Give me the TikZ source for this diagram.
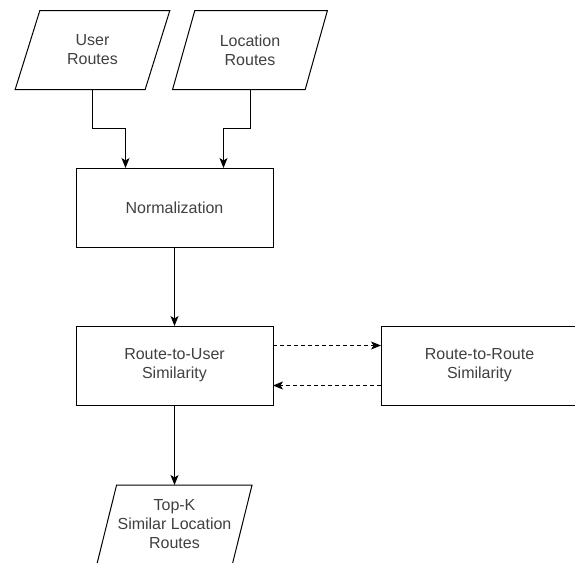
\documentclass[tikz,border=0pt]{standalone}
\usepackage{fontspec}
\setmainfont{Liberation Sans}
\usepackage{tikz}
\usetikzlibrary{shapes.geometric}
\usetikzlibrary{arrows.meta}
\tikzstyle{proc}=[rectangle,draw=black,text=black!75,font=\fontsize{16}{19}\selectfont,minimum width=197pt,minimum height=79pt,align=center,outer sep=0pt]
\tikzstyle{data}=[trapezium,trapezium left angle=69,trapezium right angle=111,trapezium stretches=true,draw=black,text=black!75,font=\fontsize{16}{19}\selectfont,minimum width=155pt,minimum height=79pt,align=center,outer sep=0pt,inner sep=1pt]
\tikzstyle{arrow}=[-{Stealth[length=10pt,width=8pt,inset=2.5pt]}]
\tikzstyle{back}=[dash pattern=on 4pt off 3pt]
\tikzset{every picture/.style={
    line width=1pt
  }
}

\begin{document}
\begin{tikzpicture}[x=1pt,y=-1pt]
      \useasboundingbox (0,0) rectangle (575,562);
      \node[data] at (92.5,50) (usr) {User\\Routes};
      \node[data] at (250,50) (loc) {Location\\Routes};
      \node[proc] at (174.5,207.5) (norm) {Normalization};
      \node[proc] at (174.5,365.5) (rtu) {Route-to-User\\Similarity};
      \node[proc] at (479.5,365.5) (rtr) {Route-to-Route\\Similarity};
      \node[data] at (174.5,524.5) (topk) {Top-K\\Similar Location\\Routes};
      \draw[arrow] (usr.center |- usr.south) -- ++(0,39) -| ([xshift=-49pt]norm.north);
      \draw[arrow] (loc.center |- loc.south) -- ++(0,39) -| ([xshift=49pt]norm.north);
      \draw[arrow] (norm) -- (rtu);
      \draw[arrow,back] ([yshift=20pt]rtu.east) -- ([yshift=20pt]rtr.west);
      \draw[arrow,back] ([yshift=-20pt]rtr.west) -- ([yshift=-20pt]rtu.east);
      \draw[arrow] (rtu) -- (topk);
    \end{tikzpicture}
\end{document}
